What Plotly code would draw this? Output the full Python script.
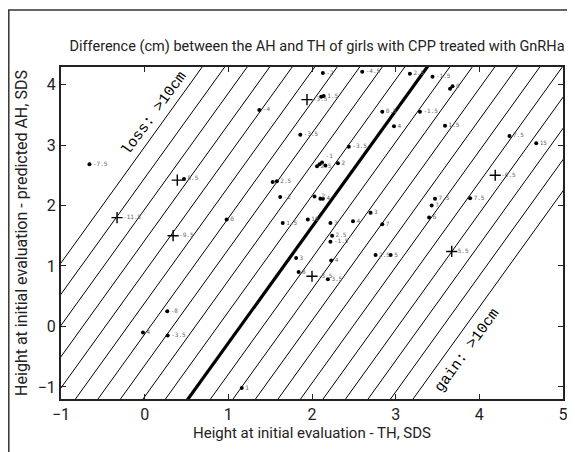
import plotly.graph_objects as go

# ---- data -------------------------------------------------------------
# dots
dot_x = [-0.66, 0.47, 0.98, 0.27, -0.02, 0.275, 1.65, 1.95, 2.22, 2.49, 2.70, 2.84,
         2.24, 2.22, 1.81, 2.76, 2.94, 2.23, 1.84, 2.19, 1.16, 3.40, 3.17, 3.44,
         3.65, 3.68, 3.29, 3.59, 4.36, 4.68, 3.89, 3.47, 3.43, 2.13, 2.60, 2.11,
         2.14, 1.37, 2.84, 2.98, 1.86, 2.44, 2.06, 2.09, 2.12, 2.16, 2.31, 1.53,
         1.58, 1.62, 2.03, 2.10, 2.13]
dot_y = [2.68, 2.44, 1.77, 0.25, -0.10, -0.15, 1.71, 1.77, 1.71, 1.74, 1.88, 1.69,
         1.50, 1.40, 1.13, 1.18, 1.18, 1.09, 0.90, 0.78, -1.02, 1.80, 4.18, 4.13,
         3.93, 3.97, 3.55, 3.32, 3.15, 3.03, 2.12, 2.11, 2.00, 4.19, 4.21, 3.80,
         3.81, 3.58, 3.55, 3.31, 3.17, 2.97, 2.65, 2.68, 2.71, 2.66, 2.70, 2.39,
         2.40, 2.14, 2.15, 2.11, 2.11]
dot_lbl = ["-7.5", "8.5", "0", "-8", "4", "-3.5", "1.5", "10", "3", "4", "3", "7",
           "2.5", "-1.5", "3", "2.5", "5", "4", "8", "3.5", "1", "6", "2.5", "-1.5",
           "", "0", "-1.5", "1.5", "7.5", "15", "7.5", "7.5", "7", "-2", "-4.5", "",
           "1.5", "-4", "0.5", "4", "-3.5", "-3.5", "2.5", "", "-1", "", "2",
           "", "2.5", "-2", "-2", "", "4"]

# crosses
crs_x = [0.39, -0.33, 0.34, 2.00, 3.67, 4.19, 1.94]
crs_y = [2.42, 1.80, 1.50, 0.83, 1.24, 2.50, 3.75]
crs_lbl = ["-", "-11.5", "-9.5", "-3.5", "5.5", "-0.5", "-3.5"]

# iso-difference reference lines (cm)
iso_diff_cm = list(range(-10, 11))
iso_x_at_y0 = 1.143      # x where the 0 cm line crosses y = 0
iso_step_x = 0.269       # horizontal shift per cm
iso_slope = 1.92

x_ticks = [-1, 0, 1, 2, 3, 4, 5]
y_ticks = [-1, 0, 1, 2, 3, 4]

# ---- figure -----------------------------------------------------------
fig = go.Figure()

thin_x, thin_y = [], []
y_lo, y_hi = -2.0, 5.0
for d in iso_diff_cm:
    x0 = iso_x_at_y0 + d * iso_step_x
    xs = [x0 + y_lo / iso_slope, x0 + y_hi / iso_slope]
    if d == 0:
        fig.add_trace(go.Scatter(x=xs, y=[y_lo, y_hi], mode="lines",
                                 line=dict(color="black", width=3.2),
                                 hoverinfo="skip", showlegend=False))
    else:
        thin_x += xs + [None]
        thin_y += [y_lo, y_hi, None]
fig.add_trace(go.Scatter(x=thin_x, y=thin_y, mode="lines",
                         line=dict(color="black", width=1),
                         hoverinfo="skip", showlegend=False))

lblfont = dict(family="DejaVu Sans Mono, monospace", size=6, color="#666")
pos = ["middle right"] * len(dot_x)
pos[44] = "top right"
fig.add_trace(go.Scatter(x=dot_x, y=dot_y, mode="markers+text",
                         marker=dict(color="black", size=4),
                         text=dot_lbl, textposition=pos,
                         textfont=lblfont, showlegend=False))
fig.add_trace(go.Scatter(x=crs_x, y=crs_y, mode="markers+text",
                         marker=dict(color="black", size=8, symbol="cross-thin",
                                     line=dict(color="black", width=1.4)),
                         text=crs_lbl, textposition="middle right",
                         textfont=lblfont, showlegend=False))

mono = "Liberation Mono, DejaVu Sans Mono, monospace"
fig.add_annotation(x=0.12, y=3.52, text="loss: >10cm", showarrow=False,
                   textangle=-54, font=dict(family=mono, size=15, color="black"))
fig.add_annotation(x=3.86, y=-0.40, text="gain: >10cm", showarrow=False,
                   textangle=-54, font=dict(family=mono, size=15, color="black"))

narrow = "Roboto, Liberation Sans Narrow, sans-serif"
axis_common = dict(showline=True, linecolor="#222", linewidth=2, mirror="ticks",
                   ticks="inside", ticklen=5, tickwidth=1, tickcolor="#222",
                   showgrid=False, zeroline=False, automargin=False,
                   tickfont=dict(family=narrow, size=16, color="#222"))

W, H = 567, 444
ml, mt, mr, mb = 53, 59, 12, 53
plot_h = H - mt - mb

fig.update_layout(
    width=W, height=H,
    margin=dict(l=ml, r=mr, t=mt, b=mb),
    paper_bgcolor="white", plot_bgcolor="white",
    title=dict(text="Difference (cm) between the AH and TH of girls with CPP treated with GnRHa",
               x=0.545, xanchor="center", y=1 - 38 / H, yanchor="middle",
               font=dict(family=narrow, size=14.5, color="#222")),
    xaxis=dict(range=[-1, 5], tickvals=x_ticks,
               title=dict(text="Height at initial evaluation - TH, SDS", standoff=0,
                          font=dict(family=narrow, size=15, color="#222")),
               **axis_common),
    yaxis=dict(range=[-1.2, 4.29], tickvals=y_ticks,
               title=dict(text="Height at initial evaluation - predicted AH, SDS", standoff=6,
                          font=dict(family=narrow, size=16, color="#222")),
               **axis_common),
)

# outer frame of the figure panel
fig.add_shape(type="rect", xref="paper", yref="paper",
              x0=(0.8 - ml) / (W - ml - mr), x1=1.2,
              y0=-0.4, y1=(H - mb - 2) / plot_h,
              line=dict(color="#333", width=1.5), layer="below")

fig.write_html("out.html")
